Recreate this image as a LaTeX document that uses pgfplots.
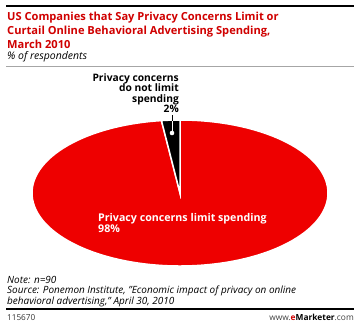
\documentclass[border=0pt]{standalone}
\usepackage{pgfplots}
\pgfplotsset{compat=1.18}
\usepackage{fontspec}
\setmainfont{Open Sans}
\definecolor{pieRed}{RGB}{238,0,0}
\definecolor{titleRed}{RGB}{208,0,0}
\begin{document}
\begin{tikzpicture}
% pie values (% of respondents)
\def\valNot{2}   % Privacy concerns do not limit spending
\def\valLimit{98} % Privacy concerns limit spending
\pgfmathsetmacro{\angStart}{90}
\pgfmathsetmacro{\angMid}{90+\valNot*3.6}
\pgfmathsetmacro{\angEnd}{\angMid+\valLimit*3.6}
\begin{axis}[
  x=1bp, y=1bp, xmin=0, xmax=360, ymin=0, ymax=328,
  y dir=reverse, hide axis, clip=false, scale only axis,
]
\fill[white] (axis cs:0,0) rectangle (axis cs:360,328);
% rules
\draw[black, line width=2bp] (axis cs:6,6) -- (axis cs:354,6);
\draw[gray!70, line width=0.8bp] (axis cs:6,66.5) -- (axis cs:354,66.5);
\draw[black, line width=1.6bp] (axis cs:6,309) -- (axis cs:354,309);
% title
\node[anchor=base west, inner sep=0, text=titleRed, font=\fontsize{11.15}{13}\selectfont\bfseries] at (axis cs:7,20.7) {US Companies that Say Privacy Concerns Limit or};
\node[anchor=base west, inner sep=0, text=titleRed, font=\fontsize{11.15}{13}\selectfont\bfseries] at (axis cs:7,34.5) {Curtail Online Behavioral Advertising Spending,};
\node[anchor=base west, inner sep=0, text=titleRed, font=\fontsize{11.15}{13}\selectfont\bfseries] at (axis cs:7,48.3) {March 2010};
\node[anchor=base west, inner sep=0, font=\fontsize{10.5}{13}\selectfont\itshape] at (axis cs:7,59.5) {\% of respondents};
% pie
\fill[pieRed, draw=white, line width=1.5bp] (axis cs:180,193) -- ++(\angMid:148bp and 73bp)
   arc[start angle=\angMid, end angle=\angEnd, x radius=148bp, y radius=73bp] -- cycle;
\fill[black, draw=white, line width=1.5bp] (axis cs:180,193) -- ++(\angStart:148bp and 73bp)
   arc[start angle=\angStart, end angle=\angMid, x radius=148bp, y radius=73bp] -- cycle;
% leader
\draw[black, line width=0.7bp] (axis cs:172,115) -- (axis cs:172,121);
\draw[white, line width=0.7bp] (axis cs:172,121) -- (axis cs:172,133);
\fill[white] (axis cs:172,133) circle[radius=2.3bp];
% labels
\node[anchor=base east, inner sep=0, font=\fontsize{10.3}{11}\selectfont\bfseries] at (axis cs:179,81) {Privacy concerns};
\node[anchor=base east, inner sep=0, font=\fontsize{10.3}{11}\selectfont\bfseries] at (axis cs:179,91.5) {do not limit};
\node[anchor=base east, inner sep=0, font=\fontsize{10.3}{11}\selectfont\bfseries] at (axis cs:179,102) {spending};
\node[anchor=base east, inner sep=0, font=\fontsize{10.3}{11}\selectfont\bfseries] at (axis cs:179,112.5) {\valNot\%};
\node[anchor=base west, inner sep=0, text=white, font=\fontsize{10.7}{11}\selectfont\bfseries] at (axis cs:98,221) {Privacy concerns limit spending};
\node[anchor=base west, inner sep=0, text=white, font=\fontsize{10.7}{11}\selectfont\bfseries] at (axis cs:98,232) {\valLimit\%};
% notes
\node[anchor=base west, inner sep=0, font=\fontsize{10}{11}\selectfont\itshape] at (axis cs:7,283) {Note: n=90};
\node[anchor=base west, inner sep=0, font=\fontsize{10}{11}\selectfont\itshape] at (axis cs:7,293.5) {Source: Ponemon Institute, "Economic impact of privacy on online};
\node[anchor=base west, inner sep=0, font=\fontsize{10}{11}\selectfont\itshape] at (axis cs:7,304) {behavioral advertising," April 30, 2010};
\node[anchor=base west, inner sep=0, text=black!80, font=\fontsize{8.2}{9}\selectfont] at (axis cs:7,320) {115670};
\node[anchor=base east, inner sep=0, text=black!75, font=\fontsize{8.4}{9}\selectfont] at (axis cs:354,320) {www.{\bfseries\textcolor{titleRed}{e}\textcolor{black}{Marketer}}.com};
\end{axis}
\end{tikzpicture}
\end{document}
